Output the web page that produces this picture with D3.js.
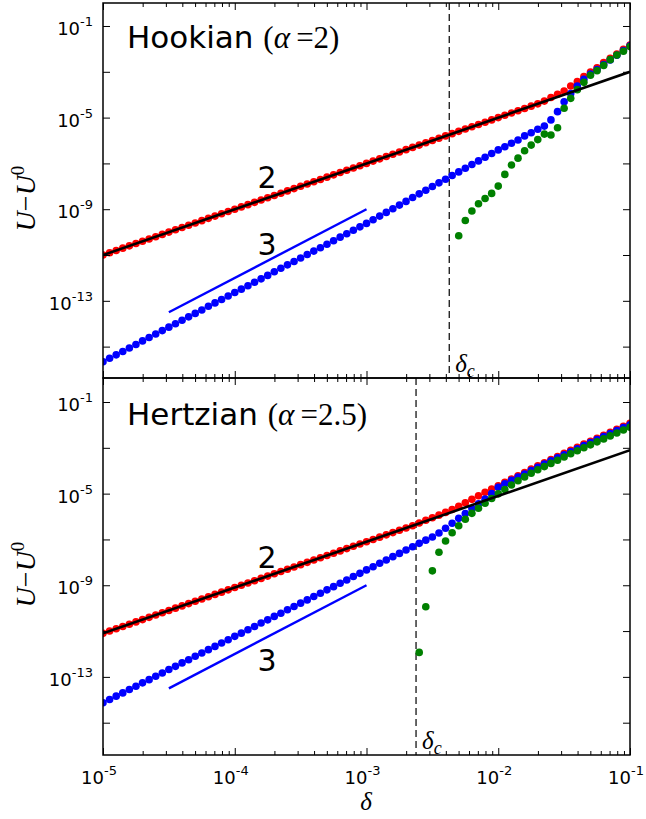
<!DOCTYPE html>
<html>
<head>
<meta charset="utf-8">
<script src="https://cdn.jsdelivr.net/npm/d3@7/dist/d3.min.js"></script>
<style>
  body { margin: 0; background: #fff; }
</style>
</head>
<body>
<div id="chart"></div>
<script>
// x grid: 20 points per decade from 1e-5 to 1e-1 (log10 of delta)
var logDelta = d3.range(81).map(function(k) { return -5 + k / 20; });

// log10(U - U0), one value per delta
var hookRed = [
  -11.0,-10.9,-10.8,-10.7,-10.6,-10.5,-10.4,-10.3,-10.2,-10.1,
  -10.0,-9.9,-9.8,-9.7,-9.6,-9.5,-9.4,-9.3,-9.2,-9.1,
  -9.0,-8.9,-8.8,-8.7,-8.6,-8.5,-8.4,-8.3,-8.2,-8.1,
  -8.0,-7.9,-7.8,-7.7,-7.6,-7.5,-7.4,-7.3,-7.2,-7.1,
  -7.0,-6.9,-6.8,-6.7,-6.6,-6.5,-6.4,-6.3,-6.2,-6.1,
  -6.0,-5.9,-5.8,-5.7,-5.6,-5.5,-5.4,-5.3,-5.2,-5.1,
  -5.0,-4.9,-4.8,-4.7,-4.6,-4.5,-4.4,-4.28,-4.12,-3.98,
  -3.84,-3.62,-3.43,-3.21,-3.01,-2.82,-2.60,-2.41,-2.22,-2.02,
  -1.83
];
var hookBlue = [
  -15.66,-15.51,-15.36,-15.21,-15.06,-14.91,-14.75,-14.60,-14.45,-14.30,
  -14.15,-14.00,-13.85,-13.70,-13.55,-13.40,-13.24,-13.09,-12.94,-12.79,
  -12.64,-12.49,-12.34,-12.19,-12.04,-11.89,-11.73,-11.58,-11.43,-11.28,
  -11.13,-10.98,-10.83,-10.68,-10.53,-10.38,-10.22,-10.07,-9.92,-9.77,
  -9.62,-9.46,-9.30,-9.14,-8.98,-8.82,-8.66,-8.49,-8.33,-8.17,
  -8.01,-7.85,-7.69,-7.53,-7.37,-7.21,-7.05,-6.89,-6.73,-6.57,
  -6.41,-6.27,-6.12,-5.98,-5.80,-5.66,-5.51,-5.37,-5.10,-4.74,
  -4.31,-3.95,-3.62,-3.33,-3.10,-2.90,-2.68,-2.48,-2.28,-2.07,
  -1.86
];
var hookGreenStart = 54;
var hookGreen = [
  -10.16,-9.49,-9.08,-8.76,-8.53,-8.31,-7.99,-7.48,-7.07,-6.77,
  -6.45,-6.20,-5.96,-5.72,-5.76,-5.44,-4.59,-4.16,-3.78,-3.46,
  -3.15,-2.95,-2.72,-2.47,-2.27,-2.10,-1.90
];

var hertzRed = [
  -11.1,-11.0,-10.9,-10.8,-10.7,-10.6,-10.5,-10.4,-10.3,-10.2,
  -10.1,-10.0,-9.9,-9.8,-9.7,-9.6,-9.5,-9.4,-9.3,-9.2,
  -9.1,-9.0,-8.9,-8.8,-8.7,-8.6,-8.5,-8.4,-8.3,-8.2,
  -8.1,-8.0,-7.9,-7.8,-7.7,-7.6,-7.5,-7.4,-7.3,-7.2,
  -7.1,-7.0,-6.9,-6.8,-6.7,-6.6,-6.5,-6.4,-6.28,-6.16,
  -6.05,-5.94,-5.82,-5.69,-5.55,-5.40,-5.25,-5.09,-4.94,-4.80,
  -4.66,-4.51,-4.36,-4.22,-4.08,-3.93,-3.79,-3.65,-3.51,-3.38,
  -3.24,-3.11,-2.98,-2.84,-2.71,-2.58,-2.45,-2.32,-2.19,-2.06,
  -1.93
];
var hertzBlue = [
  -14.13,-13.99,-13.84,-13.70,-13.55,-13.41,-13.26,-13.12,-12.97,-12.83,
  -12.68,-12.54,-12.39,-12.25,-12.10,-11.96,-11.81,-11.67,-11.52,-11.38,
  -11.23,-11.09,-10.94,-10.80,-10.65,-10.51,-10.36,-10.22,-10.07,-9.93,
  -9.78,-9.64,-9.49,-9.35,-9.20,-9.06,-8.91,-8.77,-8.62,-8.48,
  -8.33,-8.19,-8.04,-7.90,-7.75,-7.61,-7.46,-7.32,-7.17,-7.03,
  -6.89,-6.72,-6.51,-6.29,-6.08,-5.87,-5.65,-5.44,-5.24,-5.00,
  -4.72,-4.57,-4.42,-4.28,-4.14,-3.99,-3.85,-3.71,-3.57,-3.44,
  -3.30,-3.17,-3.04,-2.90,-2.77,-2.64,-2.51,-2.38,-2.25,-2.12,
  -1.99
];
var hertzGreenStart = 48;
var hertzGreen = [
  -11.93,-9.94,-8.37,-7.56,-7.07,-6.71,-6.40,-6.12,-5.86,-5.64,
  -5.42,-5.21,-5.01,-4.82,-4.62,-4.44,-4.27,-4.11,-3.96,-3.82,
  -3.68,-3.54,-3.40,-3.26,-3.13,-3.00,-2.87,-2.74,-2.61,-2.48,
  -2.35,-2.22,-2.10
];

// fitted slope-2 lines and slope-3 guide lines, [log10 delta, log10 U]
var hookFit = [[-5, -11.0], [-1, -3.0]];
var hertzFit = [[-5, -11.1], [-1, -3.1]];
var slope3Guide = [[-4.5, -13.5], [-3, -9.0]];

var deltaC = [-2.372, -2.624];
var titles = ['Hookian', 'Hertzian'];
var alphas = ['2', '2.5'];

var xTickExps = [-5, -4, -3, -2, -1];
var yTickExps = [-1, -5, -9, -13];
var yMinorExps = [-3, -7, -11, -15];

var width = 646, height = 819;
var left = 103, right = 630;

var panels = [
  { top: 3, bottom: 378, yDom: [-16.37, 0.004], red: hookRed, blue: hookBlue,
    green: hookGreen, greenStart: hookGreenStart, fit: hookFit,
    lab2: [267, 188], lab3: [267, 255], titleY: 48 },
  { top: 378, bottom: 755, yDom: [-16.41, 0.048], red: hertzRed, blue: hertzBlue,
    green: hertzGreen, greenStart: hertzGreenStart, fit: hertzFit,
    lab2: [267, 568], lab3: [267, 671], titleY: 425 }
];

var svg = d3.select('#chart').append('svg')
  .attr('width', width)
  .attr('height', height);

var x = d3.scaleLog().domain([1e-5, 1e-1]).range([left, right]);

var serif = 'Liberation Serif, DejaVu Serif, serif';
var sans = 'DejaVu Sans, sans-serif';

panels.forEach(function(p, pi) {
  var y = d3.scaleLog()
    .domain([Math.pow(10, p.yDom[0]), Math.pow(10, p.yDom[1])])
    .range([p.bottom, p.top]);

  var g = svg.append('g');
  var clipId = 'clip' + pi;
  g.append('clipPath').attr('id', clipId)
    .append('rect')
    .attr('x', left).attr('y', p.top)
    .attr('width', right - left).attr('height', p.bottom - p.top);

  var plot = g.append('g').attr('clip-path', 'url(#' + clipId + ')');

  // dashed delta_c line
  var xc = x(Math.pow(10, deltaC[pi]));
  plot.append('line')
    .attr('x1', xc).attr('x2', xc)
    .attr('y1', p.top).attr('y2', p.bottom)
    .attr('stroke', '#000').attr('stroke-width', 1.2)
    .attr('stroke-dasharray', '7,4');

  // points
  function dots(vals, start, color) {
    plot.append('g').selectAll('circle')
      .data(vals)
      .enter().append('circle')
      .attr('cx', function(d, i) { return x(Math.pow(10, logDelta[i + start])); })
      .attr('cy', function(d) { return y(Math.pow(10, d)); })
      .attr('r', 3.8)
      .attr('fill', color);
  }
  dots(p.red, 0, '#ff0000');
  dots(p.blue, 0, '#0000ff');
  dots(p.green, p.greenStart, '#008000');

  var line = d3.line()
    .x(function(d) { return x(Math.pow(10, d[0])); })
    .y(function(d) { return y(Math.pow(10, d[1])); });

  plot.append('path').datum(p.fit)
    .attr('d', line)
    .attr('fill', 'none').attr('stroke', '#000').attr('stroke-width', 2.6);

  plot.append('path').datum(slope3Guide)
    .attr('d', line)
    .attr('fill', 'none').attr('stroke', '#0000ff').attr('stroke-width', 2.4);

  // slope labels
  g.append('text').attr('x', p.lab2[0]).attr('y', p.lab2[1])
    .attr('text-anchor', 'middle').attr('font-family', sans).attr('font-size', 30)
    .text('2');
  g.append('text').attr('x', p.lab3[0]).attr('y', p.lab3[1])
    .attr('text-anchor', 'middle').attr('font-family', sans).attr('font-size', 30)
    .text('3');

  // title
  var t = g.append('text').attr('x', 127).attr('y', p.titleY).attr('font-size', 31);
  t.append('tspan').attr('font-family', sans).text(titles[pi] + ' ');
  t.append('tspan').attr('font-family', serif).text('(');
  t.append('tspan').attr('font-family', serif).attr('font-style', 'italic').text('\u03b1');
  t.append('tspan').attr('font-family', serif).text('\u2009=' + alphas[pi] + ')');

  // delta_c label
  var dl = g.append('text').attr('x', xc + 6).attr('y', p.bottom - 6)
    .attr('font-family', serif).attr('font-style', 'italic').attr('font-size', 25);
  dl.append('tspan').text('\u03b4');
  dl.append('tspan').attr('dy', 5).attr('font-size', 18).text('c');

  // x ticks, top and bottom edges, pointing inward
  var minor = [];
  xTickExps.forEach(function(e) {
    if (e < -1) d3.range(2, 10).forEach(function(m) { minor.push(m * Math.pow(10, e)); });
  });
  var majors = xTickExps.map(function(e) { return Math.pow(10, e); });

  g.append('g').attr('transform', 'translate(0,' + p.bottom + ')')
    .call(d3.axisBottom(x).tickValues(majors).tickSize(-7).tickFormat(''));
  g.append('g').attr('transform', 'translate(0,' + p.bottom + ')')
    .call(d3.axisBottom(x).tickValues(minor).tickSize(-4).tickFormat(''));
  g.append('g').attr('transform', 'translate(0,' + p.top + ')')
    .call(d3.axisTop(x).tickValues(majors).tickSize(-7).tickFormat(''));
  g.append('g').attr('transform', 'translate(0,' + p.top + ')')
    .call(d3.axisTop(x).tickValues(minor).tickSize(-4).tickFormat(''));

  // y ticks, left and right
  var yAll = yTickExps.concat(yMinorExps).map(function(e) { return Math.pow(10, e); });
  g.append('g').attr('transform', 'translate(' + left + ',0)')
    .call(d3.axisLeft(y).tickValues(yAll).tickSize(-7).tickFormat(''));
  g.append('g').attr('transform', 'translate(' + right + ',0)')
    .call(d3.axisRight(y).tickValues(yAll).tickSize(-7).tickFormat(''));

  g.selectAll('.domain').remove();
  g.selectAll('.tick line').attr('stroke', '#000').attr('stroke-width', 1);

  // frame
  g.append('rect')
    .attr('x', left).attr('y', p.top)
    .attr('width', right - left).attr('height', p.bottom - p.top)
    .attr('fill', 'none').attr('stroke', '#000').attr('stroke-width', 1.5);

  // y tick labels
  yTickExps.forEach(function(e) {
    var ty = y(Math.pow(10, e));
    var lab = g.append('text').attr('x', 93).attr('y', ty + 9)
      .attr('text-anchor', 'end').attr('font-family', sans).attr('font-size', 18);
    lab.append('tspan').text('10');
    lab.append('tspan').attr('dy', -9).attr('font-size', 13).text(String(e));
  });

  // y axis label
  var yl = g.append('text')
    .attr('transform', 'translate(35,' + ((p.top + p.bottom) / 2 + 8) + ') rotate(-90)')
    .attr('text-anchor', 'middle').attr('font-family', serif).attr('font-size', 28);
  yl.append('tspan').attr('font-style', 'italic').text('U');
  yl.append('tspan').text('\u2212');
  yl.append('tspan').attr('font-style', 'italic').text('U');
  yl.append('tspan').attr('dy', -11).attr('font-size', 19).text('0');
});

// x tick labels under the lower panel (centred a little left of the tick)
xTickExps.forEach(function(e) {
  var lab = svg.append('text').attr('x', x(Math.pow(10, e)) - 4).attr('y', 784)
    .attr('text-anchor', 'middle').attr('font-family', sans).attr('font-size', 18);
  lab.append('tspan').text('10');
  lab.append('tspan').attr('dy', -9).attr('font-size', 13).text(String(e));
});

svg.append('text').attr('x', 366).attr('y', 810)
  .attr('text-anchor', 'middle').attr('font-family', serif)
  .attr('font-style', 'italic').attr('font-size', 25).text('\u03b4');
</script>
</body>
</html>
